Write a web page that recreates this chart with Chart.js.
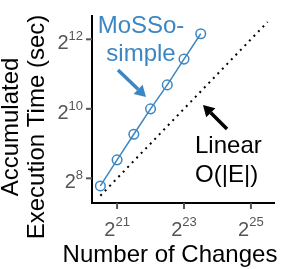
<!DOCTYPE html>
<html>
<head>
<meta charset="utf-8">
<script src="https://cdn.jsdelivr.net/npm/chart.js@4.4.1/dist/chart.umd.min.js"></script>
<style>
  html, body { margin: 0; padding: 0; background: #fff; }
  #wrap { position: relative; width: 291px; height: 269px; }
</style>
</head>
<body>
<div id="wrap"><canvas id="myChart" width="291" height="269"></canvas></div>
<script>
// number of changes (x) and accumulated time in seconds (y)
const changes = [1482910, 2097152, 2965821, 4194304, 5931642, 8388608, 11863283];
const mossoTime = [220, 370, 617, 1024, 1650, 2760, 4575];
// linear reference O(|E|)
const linearX = [1482910, 47453133];
const linearY = [181, 5793];
// tick exponents (base 2)
const xTickExp = [21, 23, 25];
const yTickExp = [8, 10, 12];

const blue = "#3c86c3";
const font = "'Liberation Sans', Arial, sans-serif";

const toPoints = (xs, ys) => xs.map((x, i) => ({ x: x, y: ys[i] }));

function arrow(ctx, x1, y1, x2, y2, color) {
  const a = Math.atan2(y2 - y1, x2 - x1);
  const head = 11, w = 6.5;
  const bx = x2 - head * Math.cos(a), by = y2 - head * Math.sin(a);
  ctx.save();
  ctx.strokeStyle = color;
  ctx.fillStyle = color;
  ctx.lineWidth = 3.5;
  ctx.beginPath();
  ctx.moveTo(x1, y1);
  ctx.lineTo(bx, by);
  ctx.stroke();
  ctx.beginPath();
  ctx.moveTo(x2, y2);
  ctx.lineTo(bx + w * Math.sin(a), by - w * Math.cos(a));
  ctx.lineTo(bx - w * Math.sin(a), by + w * Math.cos(a));
  ctx.closePath();
  ctx.fill();
  ctx.restore();
}

const decor = {
  id: "decor",
  afterDraw(chart) {
    const ctx = chart.ctx;
    const { left, right, top, bottom } = chart.chartArea;
    const xs = chart.scales.x, ys = chart.scales.y;
    ctx.save();
    // axes
    ctx.strokeStyle = "#000";
    ctx.lineWidth = 2;
    ctx.beginPath();
    ctx.moveTo(left, top);
    ctx.lineTo(left, bottom);
    ctx.lineTo(right, bottom);
    ctx.stroke();

    ctx.fillStyle = "#555";
    ctx.textBaseline = "alphabetic";
    // x ticks
    xTickExp.forEach(e => {
      const px = xs.getPixelForValue(Math.pow(2, e));
      ctx.strokeStyle = "#555";
      ctx.beginPath();
      ctx.moveTo(px, bottom);
      ctx.lineTo(px, bottom + 6);
      ctx.stroke();
      ctx.font = "20px " + font;
      const wb = ctx.measureText("2").width;
      ctx.font = "13px " + font;
      const we = ctx.measureText(String(e)).width;
      const x0 = px - (wb + we) / 2;
      ctx.textAlign = "left";
      ctx.font = "20px " + font;
      ctx.fillText("2", x0, bottom + 33);
      ctx.font = "13px " + font;
      ctx.fillText(String(e), x0 + wb, bottom + 23);
    });
    // y ticks
    yTickExp.forEach(e => {
      const py = ys.getPixelForValue(Math.pow(2, e));
      ctx.strokeStyle = "#555";
      ctx.beginPath();
      ctx.moveTo(left - 6, py);
      ctx.lineTo(left, py);
      ctx.stroke();
      ctx.font = "13px " + font;
      const we = ctx.measureText(String(e)).width;
      ctx.textAlign = "right";
      ctx.fillText(String(e), left - 9, py + 1);
      ctx.font = "20px " + font;
      ctx.fillText("2", left - 9 - we, py + 10);
    });

    // axis titles
    ctx.fillStyle = "#000";
    ctx.font = "24px " + font;
    ctx.textAlign = "center";
    ctx.fillText("Number of Changes", 170, 262);
    ctx.save();
    ctx.translate(18, 127);
    ctx.rotate(-Math.PI / 2);
    ctx.fillText("Accumulated", 0, 0);
    ctx.fillText("Execution Time (sec)", 0, 26);
    ctx.restore();

    // annotations
    ctx.fillStyle = blue;
    ctx.fillText("MoSSo-", 141, 33);
    ctx.fillText("simple", 141, 61);
    arrow(ctx, 118, 70, 146, 97, blue);

    ctx.fillStyle = "#000";
    ctx.textAlign = "left";
    ctx.fillText("Linear", 195, 153);
    ctx.fillText("O(|E|)", 195, 182);
    arrow(ctx, 227, 129, 203, 105, "#000");
    ctx.restore();
  }
};

new Chart(document.getElementById("myChart"), {
  type: "line",
  data: {
    datasets: [
      {
        label: "MoSSo-simple",
        data: toPoints(changes, mossoTime),
        borderColor: blue,
        borderWidth: 1.5,
        backgroundColor: "transparent",
        pointRadius: 4.8,
        pointBorderWidth: 1.5,
        pointBorderColor: blue,
        pointBackgroundColor: "transparent",
        tension: 0,
      },
      {
        label: "Linear",
        data: toPoints(linearX, linearY),
        borderColor: "#000",
        borderWidth: 2,
        borderDash: [2, 4.5],
        pointRadius: 0,
        fill: false,
      },
    ],
  },
  options: {
    responsive: false,
    animation: false,
    layout: { padding: { left: 92, right: 16, top: 15, bottom: 66 } },
    plugins: { legend: { display: false }, tooltip: { enabled: false } },
    scales: {
      x: { type: "logarithmic", display: false, min: Math.pow(2, 20.25), max: Math.pow(2, 25.72) },
      y: { type: "logarithmic", display: false, min: Math.pow(2, 7.29), max: Math.pow(2, 12.7) },
    },
  },
  plugins: [decor],
});
</script>
</body>
</html>
